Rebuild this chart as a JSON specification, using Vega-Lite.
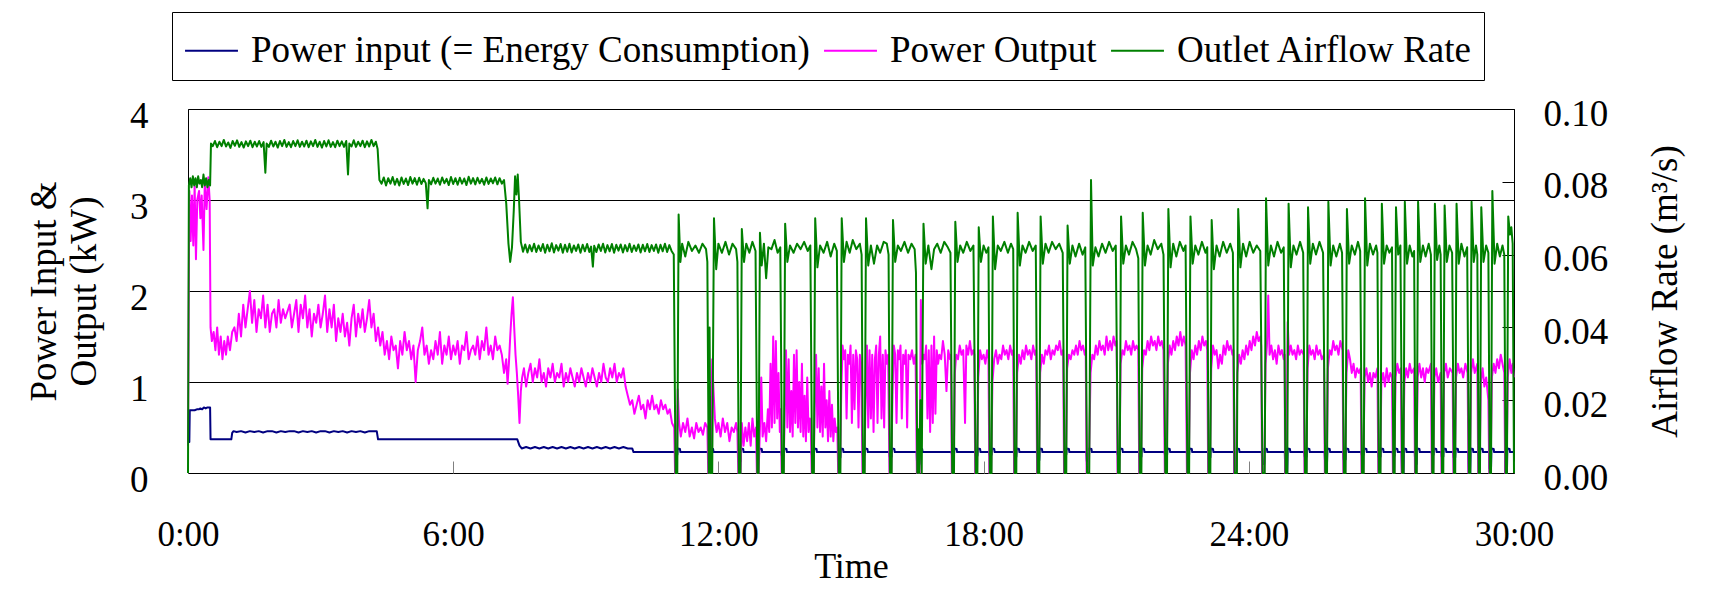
{
"$schema": "https://vega.github.io/schema/vega-lite/v6.json",
"width": 1326,
"height": 364,
"autosize": {"type": "none"},
"padding": {"left": 188, "top": 109, "right": 207, "bottom": 120},
"background": "white",
"config": {
  "font": "Liberation Serif",
  "view": {"stroke": "black", "strokeWidth": 1},
  "axis": {"labelFont": "Liberation Serif", "titleFont": "Liberation Serif", "labelColor": "black", "titleColor": "black", "titleFontWeight": "normal", "domain": false}
},
"datasets": {
"pin": [
{"t":0,"v":0.34},{"t":0.03,"v":0.34},{"t":0.04,"v":0.69},{"t":0.15,"v":0.69},{"t":0.2,"v":0.7},{"t":0.25,"v":0.7},{"t":0.28,"v":0.71},{"t":0.32,"v":0.7},{"t":0.36,"v":0.72},{"t":0.4,"v":0.71},{"t":0.44,"v":0.72},{"t":0.5,"v":0.72},{"t":0.51,"v":0.37},{"t":0.98,"v":0.37},{"t":1.0,"v":0.44},{"t":1.03,"v":0.46},{"t":1.1,"v":0.45},{"t":1.2,"v":0.46},{"t":1.3,"v":0.445},{"t":1.4,"v":0.46},{"t":1.5,"v":0.45},{"t":1.6,"v":0.46},{"t":1.7,"v":0.445},{"t":1.8,"v":0.46},{"t":1.9,"v":0.46},{"t":2.0,"v":0.445},{"t":2.1,"v":0.46},{"t":2.2,"v":0.45},{"t":2.3,"v":0.46},{"t":2.4,"v":0.46},{"t":2.5,"v":0.445},{"t":2.6,"v":0.46},{"t":2.7,"v":0.45},{"t":2.8,"v":0.46},{"t":2.9,"v":0.445},{"t":3.0,"v":0.46},{"t":3.1,"v":0.46},{"t":3.2,"v":0.445},{"t":3.3,"v":0.46},{"t":3.4,"v":0.45},{"t":3.5,"v":0.46},{"t":3.6,"v":0.445},{"t":3.7,"v":0.46},{"t":3.8,"v":0.45},{"t":3.9,"v":0.46},{"t":4.0,"v":0.445},{"t":4.1,"v":0.46},{"t":4.2,"v":0.46},{"t":4.27,"v":0.46},{"t":4.3,"v":0.37},{"t":7.45,"v":0.37},{"t":7.5,"v":0.3},{"t":7.55,"v":0.27},{"t":7.65,"v":0.285},{"t":7.75,"v":0.27},{"t":7.85,"v":0.285},{"t":7.95,"v":0.27},{"t":8.05,"v":0.285},{"t":8.15,"v":0.27},{"t":8.25,"v":0.285},{"t":8.35,"v":0.27},{"t":8.45,"v":0.285},{"t":8.55,"v":0.27},{"t":8.65,"v":0.285},{"t":8.75,"v":0.27},{"t":8.85,"v":0.285},{"t":8.95,"v":0.27},{"t":9.05,"v":0.285},{"t":9.15,"v":0.27},{"t":9.25,"v":0.285},{"t":9.35,"v":0.27},{"t":9.45,"v":0.285},{"t":9.55,"v":0.27},{"t":9.65,"v":0.285},{"t":9.75,"v":0.27},{"t":9.85,"v":0.285},{"t":9.95,"v":0.27},{"t":10.05,"v":0.27},{"t":10.08,"v":0.23},
{"t":11.015,"v":0.23},{"t":11.025,"v":0.2},{"t":11.07,"v":0.2},{"t":11.08,"v":0.27},{"t":11.13,"v":0.265},{"t":11.14,"v":0.23},
{"t":11.765,"v":0.23},{"t":11.775,"v":0.18},{"t":11.82,"v":0.18},{"t":11.83,"v":0.27},{"t":11.88,"v":0.265},{"t":11.89,"v":0.23},
{"t":12.445,"v":0.23},{"t":12.455,"v":0.13},{"t":12.5,"v":0.13},{"t":12.51,"v":0.27},{"t":12.56,"v":0.265},{"t":12.57,"v":0.23},
{"t":12.865,"v":0.23},{"t":12.875,"v":0.2},{"t":12.92,"v":0.2},{"t":12.93,"v":0.27},{"t":12.98,"v":0.265},{"t":12.99,"v":0.23},
{"t":13.425,"v":0.23},{"t":13.435,"v":0.19},{"t":13.48,"v":0.19},{"t":13.49,"v":0.27},{"t":13.54,"v":0.265},{"t":13.55,"v":0.23},
{"t":14.105,"v":0.23},{"t":14.115,"v":0.2},{"t":14.16,"v":0.2},{"t":14.17,"v":0.27},{"t":14.22,"v":0.265},{"t":14.23,"v":0.23},
{"t":14.705,"v":0.23},{"t":14.715,"v":0.17},{"t":14.76,"v":0.17},{"t":14.77,"v":0.27},{"t":14.82,"v":0.265},{"t":14.83,"v":0.23},
{"t":15.255,"v":0.23},{"t":15.265,"v":0.2},{"t":15.31,"v":0.2},{"t":15.32,"v":0.27},{"t":15.37,"v":0.265},{"t":15.38,"v":0.23},
{"t":15.865,"v":0.23},{"t":15.875,"v":0.18},{"t":15.92,"v":0.18},{"t":15.93,"v":0.27},{"t":15.98,"v":0.265},{"t":15.99,"v":0.23},
{"t":16.485,"v":0.23},{"t":16.495,"v":0.1},{"t":16.55,"v":0.1},{"t":16.56,"v":0.27},{"t":16.61,"v":0.265},{"t":16.62,"v":0.23},
{"t":17.275,"v":0.23},{"t":17.285,"v":0.2},{"t":17.33,"v":0.2},{"t":17.34,"v":0.27},{"t":17.39,"v":0.265},{"t":17.4,"v":0.23},
{"t":17.805,"v":0.23},{"t":17.815,"v":0.19},{"t":17.86,"v":0.19},{"t":17.87,"v":0.27},{"t":17.92,"v":0.265},{"t":17.93,"v":0.23},
{"t":18.125,"v":0.23},{"t":18.135,"v":0.2},{"t":18.18,"v":0.2},{"t":18.19,"v":0.27},{"t":18.24,"v":0.265},{"t":18.25,"v":0.23},
{"t":18.685,"v":0.23},{"t":18.695,"v":0.18},{"t":18.74,"v":0.18},{"t":18.75,"v":0.27},{"t":18.8,"v":0.265},{"t":18.81,"v":0.23},
{"t":19.205,"v":0.23},{"t":19.215,"v":0.14},{"t":19.26,"v":0.14},{"t":19.27,"v":0.27},{"t":19.32,"v":0.265},{"t":19.33,"v":0.23},
{"t":19.815,"v":0.23},{"t":19.825,"v":0.2},{"t":19.87,"v":0.2},{"t":19.88,"v":0.27},{"t":19.93,"v":0.265},{"t":19.94,"v":0.23},
{"t":20.325,"v":0.23},{"t":20.335,"v":0.13},{"t":20.38,"v":0.13},{"t":20.39,"v":0.27},{"t":20.44,"v":0.265},{"t":20.45,"v":0.23},
{"t":21.025,"v":0.23},{"t":21.035,"v":0.2},{"t":21.08,"v":0.2},{"t":21.09,"v":0.27},{"t":21.14,"v":0.265},{"t":21.15,"v":0.23},
{"t":21.515,"v":0.23},{"t":21.525,"v":0.18},{"t":21.57,"v":0.18},{"t":21.58,"v":0.27},{"t":21.63,"v":0.265},{"t":21.64,"v":0.23},
{"t":22.095,"v":0.23},{"t":22.105,"v":0.19},{"t":22.15,"v":0.19},{"t":22.16,"v":0.27},{"t":22.21,"v":0.265},{"t":22.22,"v":0.23},
{"t":22.595,"v":0.23},{"t":22.605,"v":0.2},{"t":22.65,"v":0.2},{"t":22.66,"v":0.27},{"t":22.71,"v":0.265},{"t":22.72,"v":0.23},
{"t":23.075,"v":0.23},{"t":23.085,"v":0.17},{"t":23.13,"v":0.17},{"t":23.14,"v":0.27},{"t":23.19,"v":0.265},{"t":23.2,"v":0.23},
{"t":23.665,"v":0.23},{"t":23.675,"v":0},{"t":23.72,"v":0},{"t":23.73,"v":0.27},{"t":23.78,"v":0.265},{"t":23.79,"v":0.23},
{"t":24.295,"v":0.23},{"t":24.305,"v":0.1},{"t":24.35,"v":0.1},{"t":24.36,"v":0.27},{"t":24.41,"v":0.265},{"t":24.42,"v":0.23},
{"t":24.815,"v":0.23},{"t":24.825,"v":0},{"t":24.87,"v":0},{"t":24.88,"v":0.27},{"t":24.93,"v":0.265},{"t":24.94,"v":0.23},
{"t":25.255,"v":0.23},{"t":25.265,"v":0.18},{"t":25.31,"v":0.18},{"t":25.32,"v":0.27},{"t":25.37,"v":0.265},{"t":25.38,"v":0.23},
{"t":25.715,"v":0.23},{"t":25.725,"v":0.12},{"t":25.77,"v":0.12},{"t":25.78,"v":0.27},{"t":25.83,"v":0.265},{"t":25.84,"v":0.23},
{"t":26.135,"v":0.23},{"t":26.145,"v":0.15},{"t":26.19,"v":0.15},{"t":26.2,"v":0.27},{"t":26.25,"v":0.265},{"t":26.26,"v":0.23},
{"t":26.545,"v":0.23},{"t":26.555,"v":0.2},{"t":26.6,"v":0.2},{"t":26.61,"v":0.27},{"t":26.66,"v":0.265},{"t":26.67,"v":0.23},
{"t":26.925,"v":0.23},{"t":26.935,"v":0.18},{"t":26.98,"v":0.18},{"t":26.99,"v":0.27},{"t":27.04,"v":0.265},{"t":27.05,"v":0.23},
{"t":27.255,"v":0.23},{"t":27.265,"v":0.19},{"t":27.3,"v":0.19},{"t":27.31,"v":0.27},{"t":27.36,"v":0.265},{"t":27.37,"v":0.23},
{"t":27.455,"v":0.23},{"t":27.465,"v":0},{"t":27.5,"v":0},{"t":27.51,"v":0.27},{"t":27.56,"v":0.265},{"t":27.57,"v":0.23},
{"t":27.755,"v":0.23},{"t":27.765,"v":0.1},{"t":27.8,"v":0.1},{"t":27.81,"v":0.27},{"t":27.86,"v":0.265},{"t":27.87,"v":0.23},
{"t":28.135,"v":0.23},{"t":28.145,"v":0.2},{"t":28.18,"v":0.2},{"t":28.19,"v":0.27},{"t":28.24,"v":0.265},{"t":28.25,"v":0.23},
{"t":28.355,"v":0.23},{"t":28.365,"v":0.18},{"t":28.4,"v":0.18},{"t":28.41,"v":0.27},{"t":28.46,"v":0.265},{"t":28.47,"v":0.23},
{"t":28.625,"v":0.23},{"t":28.635,"v":0.17},{"t":28.67,"v":0.17},{"t":28.68,"v":0.27},{"t":28.73,"v":0.265},{"t":28.74,"v":0.23},
{"t":28.965,"v":0.23},{"t":28.975,"v":0},{"t":29.01,"v":0},{"t":29.02,"v":0.27},{"t":29.07,"v":0.265},{"t":29.08,"v":0.23},
{"t":29.185,"v":0.23},{"t":29.195,"v":0.19},{"t":29.23,"v":0.19},{"t":29.24,"v":0.27},{"t":29.29,"v":0.265},{"t":29.3,"v":0.23},
{"t":29.435,"v":0.23},{"t":29.445,"v":0.05},{"t":29.48,"v":0.05},{"t":29.49,"v":0.27},{"t":29.54,"v":0.265},{"t":29.55,"v":0.23},
{"t":29.795,"v":0.23},{"t":29.805,"v":0},{"t":29.84,"v":0},{"t":29.85,"v":0.27},{"t":29.9,"v":0.265},{"t":29.91,"v":0.23},{"t":30,"v":0.23}
],
"pout": [
{"t":0,"v":0.3},{"t":0.03,"v":3.1},{"t":0.06,"v":2.55},{"t":0.09,"v":3.05},{"t":0.12,"v":2.5},{"t":0.15,"v":3.15},{"t":0.18,"v":2.35},{"t":0.21,"v":3.0},{"t":0.25,"v":3.1},{"t":0.28,"v":2.8},{"t":0.31,"v":3.05},{"t":0.35,"v":2.45},{"t":0.38,"v":3.2},{"t":0.42,"v":2.9},{"t":0.46,"v":3.25},{"t":0.49,"v":3.0},{"t":0.51,"v":1.6},{"t":0.54,"v":1.45},{"t":0.58,"v":1.55},{"t":0.62,"v":1.35},{"t":0.66,"v":1.6},{"t":0.7,"v":1.3},{"t":0.74,"v":1.5},{"t":0.78,"v":1.25},{"t":0.82,"v":1.45},{"t":0.86,"v":1.3},{"t":0.9,"v":1.5},{"t":0.95,"v":1.35},{"t":1.0,"v":1.55},{"t":1.05,"v":1.6},{"t":1.1,"v":1.45},{"t":1.15,"v":1.75},{"t":1.2,"v":1.5},{"t":1.25,"v":1.85},{"t":1.3,"v":1.6},{"t":1.35,"v":1.8},{"t":1.4,"v":2.0},{"t":1.45,"v":1.65},{"t":1.5,"v":1.9},{"t":1.55,"v":1.55},{"t":1.6,"v":1.8},{"t":1.65,"v":1.7},{"t":1.7,"v":1.95},{"t":1.75,"v":1.6},{"t":1.8,"v":1.85},{"t":1.85,"v":1.55},{"t":1.9,"v":1.75},{"t":1.95,"v":1.8},{"t":2.0,"v":1.6},{"t":2.05,"v":1.9},{"t":2.1,"v":1.65},{"t":2.15,"v":1.8},{"t":2.2,"v":1.7},{"t":2.3,"v":1.85},{"t":2.35,"v":1.6},{"t":2.4,"v":1.75},{"t":2.45,"v":1.9},{"t":2.5,"v":1.55},{"t":2.55,"v":1.85},{"t":2.6,"v":1.7},{"t":2.65,"v":1.95},{"t":2.7,"v":1.6},{"t":2.75,"v":1.8},{"t":2.8,"v":1.5},{"t":2.85,"v":1.75},{"t":2.9,"v":1.65},{"t":2.95,"v":1.85},{"t":3.0,"v":1.6},{"t":3.05,"v":1.75},{"t":3.1,"v":1.95},{"t":3.15,"v":1.55},{"t":3.2,"v":1.8},{"t":3.25,"v":1.6},{"t":3.3,"v":1.85},{"t":3.35,"v":1.45},{"t":3.4,"v":1.7},{"t":3.45,"v":1.55},{"t":3.5,"v":1.75},{"t":3.55,"v":1.5},{"t":3.6,"v":1.65},{"t":3.65,"v":1.4},{"t":3.7,"v":1.7},{"t":3.75,"v":1.85},{"t":3.8,"v":1.5},{"t":3.85,"v":1.75},{"t":3.9,"v":1.6},{"t":3.95,"v":1.8},{"t":4.0,"v":1.55},{"t":4.05,"v":1.7},{"t":4.1,"v":1.9},{"t":4.15,"v":1.6},{"t":4.2,"v":1.75},{"t":4.25,"v":1.45},{"t":4.3,"v":1.6},{"t":4.35,"v":1.4},{"t":4.4,"v":1.55},{"t":4.45,"v":1.3},{"t":4.5,"v":1.45},{"t":4.55,"v":1.25},{"t":4.6,"v":1.5},{"t":4.65,"v":1.35},{"t":4.7,"v":1.4},{"t":4.75,"v":1.15},{"t":4.8,"v":1.45},{"t":4.85,"v":1.3},{"t":4.9,"v":1.55},{"t":4.95,"v":1.35},{"t":5.0,"v":1.45},{"t":5.05,"v":1.25},{"t":5.1,"v":1.4},{"t":5.15,"v":1.0},{"t":5.2,"v":1.35},{"t":5.25,"v":1.45},{"t":5.3,"v":1.6},{"t":5.35,"v":1.3},{"t":5.4,"v":1.4},{"t":5.45,"v":1.2},{"t":5.5,"v":1.35},{"t":5.55,"v":1.25},{"t":5.6,"v":1.45},{"t":5.65,"v":1.3},{"t":5.7,"v":1.55},{"t":5.75,"v":1.2},{"t":5.8,"v":1.4},{"t":5.85,"v":1.3},{"t":5.9,"v":1.5},{"t":5.95,"v":1.25},{"t":6.0,"v":1.4},{"t":6.05,"v":1.3},{"t":6.1,"v":1.45},{"t":6.15,"v":1.2},{"t":6.2,"v":1.4},{"t":6.25,"v":1.35},{"t":6.3,"v":1.55},{"t":6.35,"v":1.25},{"t":6.4,"v":1.35},{"t":6.45,"v":1.4},{"t":6.5,"v":1.3},{"t":6.55,"v":1.5},{"t":6.6,"v":1.25},{"t":6.65,"v":1.45},{"t":6.7,"v":1.35},{"t":6.75,"v":1.6},{"t":6.8,"v":1.3},{"t":6.85,"v":1.4},{"t":6.9,"v":1.25},{"t":6.95,"v":1.5},{"t":7.0,"v":1.35},{"t":7.05,"v":1.4},{"t":7.1,"v":1.3},{"t":7.15,"v":1.1},{"t":7.2,"v":1.25},{"t":7.23,"v":0.98},{"t":7.26,"v":1.2},{"t":7.29,"v":1.5},{"t":7.32,"v":1.75},{"t":7.35,"v":1.93},{"t":7.38,"v":1.6},{"t":7.41,"v":1.3},{"t":7.44,"v":1.1},{"t":7.47,"v":0.85},{"t":7.5,"v":0.55},{"t":7.53,"v":0.9},{"t":7.56,"v":1.05},{"t":7.6,"v":1.15},{"t":7.65,"v":0.95},{"t":7.7,"v":1.1},{"t":7.75,"v":1.2},{"t":7.8,"v":1.0},{"t":7.85,"v":1.15},{"t":7.9,"v":1.05},{"t":7.95,"v":1.25},{"t":8.0,"v":1.0},{"t":8.05,"v":1.1},{"t":8.1,"v":0.95},{"t":8.15,"v":1.15},{"t":8.2,"v":1.05},{"t":8.25,"v":1.2},{"t":8.3,"v":1.0},{"t":8.35,"v":1.1},{"t":8.4,"v":1.05},{"t":8.45,"v":1.2},{"t":8.5,"v":0.95},{"t":8.55,"v":1.1},{"t":8.6,"v":1.0},{"t":8.65,"v":1.15},{"t":8.7,"v":1.05},{"t":8.75,"v":0.95},{"t":8.8,"v":1.1},{"t":8.85,"v":1.0},{"t":8.9,"v":1.15},{"t":8.95,"v":1.05},{"t":9.0,"v":0.95},{"t":9.05,"v":1.1},{"t":9.1,"v":1.0},{"t":9.15,"v":1.15},{"t":9.2,"v":1.05},{"t":9.25,"v":0.95},{"t":9.3,"v":1.1},{"t":9.35,"v":1.0},{"t":9.4,"v":1.2},{"t":9.45,"v":1.05},{"t":9.5,"v":1.0},{"t":9.55,"v":1.15},{"t":9.6,"v":1.05},{"t":9.65,"v":1.2},{"t":9.7,"v":1.0},{"t":9.75,"v":1.1},{"t":9.8,"v":1.05},{"t":9.85,"v":1.15},{"t":9.9,"v":0.95},{"t":9.95,"v":0.85},{"t":10.0,"v":0.75},{"t":10.05,"v":0.8},{"t":10.1,"v":0.65},{"t":10.15,"v":0.75},{"t":10.2,"v":0.85},{"t":10.25,"v":0.7},{"t":10.3,"v":0.75},{"t":10.35,"v":0.6},{"t":10.4,"v":0.8},{"t":10.45,"v":0.7},{"t":10.5,"v":0.85},{"t":10.55,"v":0.7},{"t":10.6,"v":0.75},{"t":10.65,"v":0.65},{"t":10.7,"v":0.8},{"t":10.75,"v":0.7},{"t":10.8,"v":0.75},{"t":10.85,"v":0.65},{"t":10.9,"v":0.7},{"t":10.95,"v":0.55},
{"t":11.0,"v":0.5},{"t":11.02,"v":0},{"t":11.06,"v":0},{"t":11.08,"v":0.92},{"t":11.11,"v":0.55},{"t":11.15,"v":0.4},{"t":11.2,"v":0.55},{"t":11.25,"v":0.45},{"t":11.3,"v":0.6},{"t":11.35,"v":0.4},{"t":11.4,"v":0.5},{"t":11.45,"v":0.38},{"t":11.5,"v":0.55},{"t":11.55,"v":0.45},{"t":11.6,"v":0.5},{"t":11.65,"v":0.42},{"t":11.7,"v":0.55},{"t":11.75,"v":0.5},
{"t":11.77,"v":0},{"t":11.82,"v":0},{"t":11.86,"v":1.25},{"t":11.89,"v":0.9},{"t":11.92,"v":0.6},{"t":11.96,"v":0.45},{"t":12.0,"v":0.55},{"t":12.05,"v":0.4},{"t":12.1,"v":0.6},{"t":12.15,"v":0.45},{"t":12.2,"v":0.55},{"t":12.25,"v":0.35},{"t":12.3,"v":0.5},{"t":12.35,"v":0.45},{"t":12.4,"v":0.55},{"t":12.43,"v":0.45},
{"t":12.45,"v":0},{"t":12.5,"v":0},{"t":12.53,"v":0.55},{"t":12.57,"v":0.3},{"t":12.61,"v":0.5},{"t":12.65,"v":0.35},{"t":12.69,"v":0.55},{"t":12.73,"v":0.3},{"t":12.77,"v":0.6},{"t":12.81,"v":0.4},{"t":12.85,"v":0.5},
{"t":12.87,"v":0},{"t":12.91,"v":0},{"t":12.94,"v":0.5},{"t":12.97,"v":1.05},{"t":13.0,"v":0.4},{"t":13.04,"v":0.55},{"t":13.08,"v":0.35},{"t":13.12,"v":0.7},{"t":13.15,"v":0.45},{"t":13.18,"v":1.2},{"t":13.21,"v":0.5},{"t":13.24,"v":1.5},{"t":13.27,"v":0.55},{"t":13.3,"v":1.45},{"t":13.33,"v":0.6},{"t":13.36,"v":1.1},{"t":13.39,"v":0.45},{"t":13.41,"v":0.7},
{"t":13.43,"v":0},{"t":13.47,"v":0},{"t":13.5,"v":0.6},{"t":13.53,"v":1.35},{"t":13.56,"v":0.5},{"t":13.59,"v":1.25},{"t":13.62,"v":0.45},{"t":13.65,"v":0.9},{"t":13.68,"v":0.4},{"t":13.71,"v":1.3},{"t":13.74,"v":0.55},{"t":13.77,"v":1.35},{"t":13.8,"v":0.5},{"t":13.83,"v":1.0},{"t":13.86,"v":0.45},{"t":13.89,"v":1.2},{"t":13.92,"v":0.4},{"t":13.95,"v":0.85},{"t":13.98,"v":0.35},{"t":14.01,"v":1.05},{"t":14.04,"v":0.45},{"t":14.07,"v":0.6},{"t":14.09,"v":0.5},
{"t":14.11,"v":0},{"t":14.15,"v":0},{"t":14.18,"v":0.7},{"t":14.21,"v":1.3},{"t":14.24,"v":0.5},{"t":14.27,"v":1.15},{"t":14.3,"v":0.45},{"t":14.33,"v":0.95},{"t":14.36,"v":0.4},{"t":14.39,"v":1.2},{"t":14.42,"v":0.5},{"t":14.45,"v":0.8},{"t":14.48,"v":0.35},{"t":14.51,"v":0.9},{"t":14.54,"v":0.4},{"t":14.57,"v":0.75},{"t":14.6,"v":0.35},{"t":14.63,"v":0.6},{"t":14.66,"v":0.45},{"t":14.69,"v":0.5},
{"t":14.71,"v":0},{"t":14.75,"v":0},{"t":14.78,"v":0.9},{"t":14.81,"v":1.4},{"t":14.84,"v":1.25},{"t":14.87,"v":1.35},{"t":14.9,"v":0.6},{"t":14.93,"v":1.3},{"t":14.96,"v":1.2},{"t":14.99,"v":1.4},{"t":15.02,"v":0.55},{"t":15.05,"v":1.3},{"t":15.08,"v":0.7},{"t":15.11,"v":1.35},{"t":15.14,"v":1.25},{"t":15.17,"v":0.5},{"t":15.2,"v":1.3},{"t":15.23,"v":1.2},
{"t":15.26,"v":0},{"t":15.3,"v":0},{"t":15.33,"v":0.8},{"t":15.36,"v":1.4},{"t":15.39,"v":0.5},{"t":15.42,"v":1.35},{"t":15.45,"v":0.6},{"t":15.48,"v":1.3},{"t":15.51,"v":0.45},{"t":15.54,"v":1.25},{"t":15.57,"v":1.4},{"t":15.6,"v":0.55},{"t":15.63,"v":1.3},{"t":15.66,"v":1.5},{"t":15.69,"v":0.6},{"t":15.72,"v":1.3},{"t":15.75,"v":0.5},{"t":15.78,"v":1.35},{"t":15.81,"v":1.2},{"t":15.84,"v":1.3},
{"t":15.87,"v":0},{"t":15.91,"v":0},{"t":15.94,"v":0.9},{"t":15.97,"v":1.4},{"t":16.0,"v":1.3},{"t":16.03,"v":0.55},{"t":16.06,"v":1.35},{"t":16.09,"v":1.25},{"t":16.12,"v":1.4},{"t":16.15,"v":0.6},{"t":16.18,"v":1.3},{"t":16.21,"v":1.2},{"t":16.24,"v":1.35},{"t":16.27,"v":0.5},{"t":16.3,"v":1.3},{"t":16.34,"v":1.25},{"t":16.38,"v":1.35},{"t":16.42,"v":1.2},{"t":16.46,"v":1.3},
{"t":16.49,"v":0},{"t":16.55,"v":0},{"t":16.58,"v":1.9},{"t":16.61,"v":1.2},{"t":16.64,"v":1.3},{"t":16.67,"v":1.25},{"t":16.7,"v":1.4},{"t":16.73,"v":0.6},{"t":16.76,"v":1.35},{"t":16.79,"v":0.45},{"t":16.82,"v":1.4},{"t":16.85,"v":0.55},{"t":16.88,"v":1.5},{"t":16.91,"v":0.65},{"t":16.94,"v":1.35},{"t":16.97,"v":1.2},{"t":17.0,"v":1.3},{"t":17.04,"v":1.25},{"t":17.08,"v":1.45},{"t":17.12,"v":1.3},{"t":17.16,"v":0.9},{"t":17.2,"v":1.35},{"t":17.24,"v":1.25},{"t":17.26,"v":1.3},
{"t":17.28,"v":0},{"t":17.32,"v":0},{"t":17.35,"v":1.1},{"t":17.38,"v":1.3},{"t":17.42,"v":1.25},{"t":17.46,"v":1.4},{"t":17.5,"v":1.3},{"t":17.54,"v":1.35},{"t":17.58,"v":0.55},{"t":17.61,"v":1.4},{"t":17.65,"v":1.3},{"t":17.69,"v":1.45},{"t":17.73,"v":1.3},{"t":17.77,"v":1.35},{"t":17.79,"v":1.3},
{"t":17.81,"v":0},{"t":17.85,"v":0},{"t":17.88,"v":1.05},{"t":17.92,"v":1.35},{"t":17.96,"v":1.25},{"t":18.0,"v":1.3},{"t":18.04,"v":1.2},{"t":18.08,"v":1.35},{"t":18.11,"v":1.25},
{"t":18.13,"v":0},{"t":18.17,"v":0},{"t":18.2,"v":1.0},{"t":18.24,"v":1.25},{"t":18.28,"v":1.35},{"t":18.32,"v":1.2},{"t":18.36,"v":1.3},{"t":18.4,"v":1.25},{"t":18.44,"v":1.4},{"t":18.48,"v":1.3},{"t":18.52,"v":1.35},{"t":18.56,"v":1.25},{"t":18.6,"v":1.4},{"t":18.64,"v":1.3},{"t":18.67,"v":1.35},
{"t":18.69,"v":0},{"t":18.73,"v":0},{"t":18.76,"v":1.1},{"t":18.8,"v":1.3},{"t":18.84,"v":1.2},{"t":18.88,"v":1.35},{"t":18.92,"v":1.25},{"t":18.96,"v":1.4},{"t":19.0,"v":1.3},{"t":19.04,"v":1.35},{"t":19.08,"v":1.25},{"t":19.12,"v":1.4},{"t":19.16,"v":1.3},{"t":19.19,"v":1.35},
{"t":19.21,"v":0},{"t":19.25,"v":0},{"t":19.28,"v":1.1},{"t":19.32,"v":1.3},{"t":19.36,"v":1.2},{"t":19.4,"v":1.35},{"t":19.44,"v":1.3},{"t":19.48,"v":1.4},{"t":19.52,"v":1.25},{"t":19.56,"v":1.35},{"t":19.6,"v":1.3},{"t":19.64,"v":1.4},{"t":19.68,"v":1.35},{"t":19.72,"v":1.45},{"t":19.76,"v":1.3},{"t":19.8,"v":1.35},
{"t":19.82,"v":0},{"t":19.86,"v":0},{"t":19.89,"v":1.15},{"t":19.93,"v":1.3},{"t":19.97,"v":1.25},{"t":20.01,"v":1.35},{"t":20.05,"v":1.3},{"t":20.09,"v":1.4},{"t":20.13,"v":1.3},{"t":20.17,"v":1.45},{"t":20.21,"v":1.35},{"t":20.25,"v":1.4},{"t":20.29,"v":1.3},{"t":20.31,"v":1.35},
{"t":20.33,"v":0},{"t":20.38,"v":0},{"t":20.42,"v":1.1},{"t":20.46,"v":1.3},{"t":20.5,"v":1.25},{"t":20.54,"v":1.4},{"t":20.58,"v":1.3},{"t":20.62,"v":1.45},{"t":20.66,"v":1.35},{"t":20.7,"v":1.4},{"t":20.74,"v":1.3},{"t":20.78,"v":1.5},{"t":20.82,"v":1.35},{"t":20.86,"v":1.45},{"t":20.9,"v":1.35},{"t":20.94,"v":1.5},{"t":20.98,"v":1.4},{"t":21.01,"v":1.45},
{"t":21.03,"v":0},{"t":21.07,"v":0},{"t":21.1,"v":1.2},{"t":21.14,"v":1.35},{"t":21.18,"v":1.3},{"t":21.22,"v":1.45},{"t":21.26,"v":1.35},{"t":21.3,"v":1.4},{"t":21.34,"v":1.3},{"t":21.38,"v":1.45},{"t":21.42,"v":1.35},{"t":21.46,"v":1.4},{"t":21.5,"v":1.35},
{"t":21.52,"v":0},{"t":21.56,"v":0},{"t":21.59,"v":1.15},{"t":21.63,"v":1.35},{"t":21.67,"v":1.3},{"t":21.71,"v":1.45},{"t":21.75,"v":1.35},{"t":21.79,"v":1.5},{"t":21.83,"v":1.4},{"t":21.87,"v":1.45},{"t":21.91,"v":1.35},{"t":21.95,"v":1.5},{"t":21.99,"v":1.4},{"t":22.03,"v":1.45},{"t":22.07,"v":1.35},
{"t":22.1,"v":0},{"t":22.14,"v":0},{"t":22.17,"v":1.2},{"t":22.21,"v":1.4},{"t":22.25,"v":1.3},{"t":22.29,"v":1.45},{"t":22.33,"v":1.35},{"t":22.37,"v":1.5},{"t":22.41,"v":1.4},{"t":22.45,"v":1.55},{"t":22.49,"v":1.4},{"t":22.53,"v":1.5},{"t":22.57,"v":1.4},
{"t":22.6,"v":0},{"t":22.64,"v":0},{"t":22.67,"v":1.1},{"t":22.71,"v":1.35},{"t":22.75,"v":1.25},{"t":22.79,"v":1.4},{"t":22.83,"v":1.3},{"t":22.87,"v":1.45},{"t":22.91,"v":1.35},{"t":22.95,"v":1.5},{"t":22.99,"v":1.4},{"t":23.03,"v":1.45},{"t":23.06,"v":1.35},
{"t":23.08,"v":0},{"t":23.12,"v":0},{"t":23.15,"v":1.15},{"t":23.19,"v":1.4},{"t":23.23,"v":1.3},{"t":23.27,"v":1.35},{"t":23.31,"v":1.15},{"t":23.35,"v":1.3},{"t":23.39,"v":1.2},{"t":23.43,"v":1.4},{"t":23.47,"v":1.3},{"t":23.51,"v":1.45},{"t":23.55,"v":1.35},{"t":23.59,"v":1.4},{"t":23.63,"v":1.3},{"t":23.65,"v":1.35},
{"t":23.67,"v":0},{"t":23.71,"v":0},{"t":23.74,"v":1.1},{"t":23.78,"v":1.3},{"t":23.82,"v":1.2},{"t":23.86,"v":1.35},{"t":23.9,"v":1.25},{"t":23.94,"v":1.4},{"t":23.98,"v":1.3},{"t":24.02,"v":1.45},{"t":24.06,"v":1.35},{"t":24.1,"v":1.5},{"t":24.14,"v":1.4},{"t":24.18,"v":1.55},{"t":24.22,"v":1.45},{"t":24.26,"v":1.5},{"t":24.28,"v":1.4},
{"t":24.3,"v":0},{"t":24.35,"v":0},{"t":24.38,"v":1.2},{"t":24.41,"v":1.4},{"t":24.44,"v":1.95},{"t":24.47,"v":1.3},{"t":24.51,"v":1.4},{"t":24.55,"v":1.25},{"t":24.59,"v":1.35},{"t":24.63,"v":1.2},{"t":24.67,"v":1.4},{"t":24.71,"v":1.3},{"t":24.75,"v":1.35},{"t":24.79,"v":1.25},{"t":24.81,"v":1.3},
{"t":24.82,"v":0},{"t":24.85,"v":0},{"t":24.88,"v":1.66},{"t":24.91,"v":1.3},{"t":24.95,"v":1.4},{"t":24.99,"v":1.3},{"t":25.03,"v":1.35},{"t":25.07,"v":1.25},{"t":25.11,"v":1.4},{"t":25.15,"v":1.3},{"t":25.19,"v":1.35},{"t":25.24,"v":1.3},
{"t":25.26,"v":0},{"t":25.3,"v":0},{"t":25.33,"v":1.15},{"t":25.37,"v":1.4},{"t":25.41,"v":1.3},{"t":25.45,"v":1.35},{"t":25.49,"v":1.25},{"t":25.53,"v":1.4},{"t":25.57,"v":1.3},{"t":25.61,"v":1.35},{"t":25.65,"v":1.25},{"t":25.7,"v":1.3},
{"t":25.72,"v":0},{"t":25.76,"v":0},{"t":25.79,"v":1.15},{"t":25.83,"v":1.35},{"t":25.87,"v":1.3},{"t":25.91,"v":1.45},{"t":25.95,"v":1.35},{"t":25.99,"v":1.4},{"t":26.03,"v":1.3},{"t":26.07,"v":1.45},{"t":26.12,"v":1.35},
{"t":26.14,"v":0},{"t":26.18,"v":0},{"t":26.21,"v":1.1},{"t":26.25,"v":1.35},{"t":26.29,"v":1.25},{"t":26.33,"v":1.1},{"t":26.37,"v":1.2},{"t":26.41,"v":1.05},{"t":26.45,"v":1.15},{"t":26.49,"v":1.1},{"t":26.53,"v":1.15},
{"t":26.55,"v":0},{"t":26.59,"v":0},{"t":26.62,"v":1.05},{"t":26.66,"v":1.15},{"t":26.7,"v":1.0},{"t":26.74,"v":1.1},{"t":26.78,"v":0.95},{"t":26.82,"v":1.1},{"t":26.86,"v":1.05},{"t":26.91,"v":1.15},
{"t":26.93,"v":0},{"t":26.97,"v":0},{"t":27.0,"v":1.0},{"t":27.04,"v":1.1},{"t":27.08,"v":0.95},{"t":27.12,"v":1.15},{"t":27.16,"v":1.0},{"t":27.2,"v":1.1},{"t":27.24,"v":1.05},
{"t":27.26,"v":0},{"t":27.29,"v":0},{"t":27.32,"v":1.05},{"t":27.36,"v":1.2},{"t":27.4,"v":1.1},{"t":27.44,"v":1.15},
{"t":27.46,"v":0},{"t":27.49,"v":0},{"t":27.52,"v":1.0},{"t":27.56,"v":1.15},{"t":27.6,"v":1.05},{"t":27.64,"v":1.2},{"t":27.68,"v":1.1},{"t":27.74,"v":1.15},
{"t":27.76,"v":0},{"t":27.79,"v":0},{"t":27.82,"v":1.05},{"t":27.86,"v":1.2},{"t":27.9,"v":1.05},{"t":27.94,"v":1.15},{"t":27.98,"v":1.0},{"t":28.02,"v":1.15},{"t":28.06,"v":1.1},{"t":28.12,"v":1.2},
{"t":28.14,"v":0},{"t":28.17,"v":0},{"t":28.2,"v":1.05},{"t":28.24,"v":1.15},{"t":28.28,"v":1.0},{"t":28.34,"v":1.1},
{"t":28.36,"v":0},{"t":28.39,"v":0},{"t":28.42,"v":1.1},{"t":28.46,"v":1.2},{"t":28.5,"v":1.05},{"t":28.55,"v":1.15},{"t":28.61,"v":1.1},
{"t":28.63,"v":0},{"t":28.66,"v":0},{"t":28.69,"v":1.05},{"t":28.73,"v":1.2},{"t":28.77,"v":1.1},{"t":28.81,"v":1.15},{"t":28.85,"v":1.05},{"t":28.9,"v":1.2},{"t":28.95,"v":1.1},
{"t":28.97,"v":0},{"t":29.0,"v":0},{"t":29.03,"v":1.1},{"t":29.07,"v":1.25},{"t":29.11,"v":1.1},{"t":29.17,"v":1.2},
{"t":29.19,"v":0},{"t":29.22,"v":0},{"t":29.25,"v":1.0},{"t":29.29,"v":1.15},{"t":29.33,"v":0.95},{"t":29.37,"v":1.05},{"t":29.42,"v":0.8},
{"t":29.44,"v":0},{"t":29.47,"v":0},{"t":29.5,"v":1.05},{"t":29.54,"v":1.2},{"t":29.58,"v":1.1},{"t":29.62,"v":1.25},{"t":29.66,"v":1.15},{"t":29.7,"v":1.3},{"t":29.74,"v":1.2},{"t":29.78,"v":1.1},
{"t":29.8,"v":0},{"t":29.83,"v":0},{"t":29.86,"v":1.05},{"t":29.9,"v":1.25},{"t":29.94,"v":1.1},{"t":29.97,"v":1.2},{"t":30.0,"v":1.05}
],
"air": [
{"t":0,"v":0},{"t":0.02,"v":0.079},{"t":0.05,"v":0.081},{"t":0.08,"v":0.0785},{"t":0.11,"v":0.0815},{"t":0.14,"v":0.079},{"t":0.17,"v":0.081},{"t":0.2,"v":0.0785},{"t":0.23,"v":0.0815},{"t":0.26,"v":0.0795},{"t":0.29,"v":0.0805},{"t":0.32,"v":0.0785},{"t":0.35,"v":0.082},{"t":0.38,"v":0.079},{"t":0.41,"v":0.081},{"t":0.44,"v":0.0785},{"t":0.47,"v":0.0805},{"t":0.5,"v":0.079},{"t":0.52,"v":0.0905},
{"t":0.56,"v":0.0898},{"t":0.61,"v":0.0912},{"t":0.66,"v":0.0895},{"t":0.71,"v":0.091},{"t":0.76,"v":0.0898},{"t":0.81,"v":0.0915},{"t":0.86,"v":0.0897},{"t":0.91,"v":0.0908},{"t":0.96,"v":0.0893},{"t":1.01,"v":0.0912},{"t":1.06,"v":0.0899},{"t":1.11,"v":0.0914},{"t":1.16,"v":0.0896},{"t":1.21,"v":0.0909},{"t":1.26,"v":0.0894},{"t":1.31,"v":0.0911},{"t":1.36,"v":0.0898},{"t":1.41,"v":0.0913},{"t":1.46,"v":0.0895},{"t":1.51,"v":0.091},{"t":1.56,"v":0.0897},{"t":1.61,"v":0.0912},{"t":1.66,"v":0.0896},{"t":1.71,"v":0.0909},{"t":1.75,"v":0.0825},{"t":1.78,"v":0.0905},{"t":1.83,"v":0.0896},{"t":1.88,"v":0.0913},{"t":1.93,"v":0.0897},{"t":1.98,"v":0.091},{"t":2.03,"v":0.0894},{"t":2.08,"v":0.0912},{"t":2.13,"v":0.0898},{"t":2.18,"v":0.0915},{"t":2.23,"v":0.0896},{"t":2.28,"v":0.0909},{"t":2.33,"v":0.0895},{"t":2.38,"v":0.0912},{"t":2.43,"v":0.0898},{"t":2.48,"v":0.0914},{"t":2.53,"v":0.0896},{"t":2.58,"v":0.091},{"t":2.63,"v":0.0897},{"t":2.68,"v":0.0913},{"t":2.73,"v":0.0895},{"t":2.78,"v":0.0911},{"t":2.83,"v":0.0898},{"t":2.88,"v":0.0915},{"t":2.93,"v":0.0896},{"t":2.98,"v":0.091},{"t":3.03,"v":0.0894},{"t":3.08,"v":0.0912},{"t":3.13,"v":0.0897},{"t":3.18,"v":0.0914},{"t":3.23,"v":0.0896},{"t":3.28,"v":0.0909},{"t":3.33,"v":0.0895},{"t":3.38,"v":0.0913},{"t":3.43,"v":0.0898},{"t":3.48,"v":0.0911},{"t":3.53,"v":0.0896},{"t":3.58,"v":0.0912},{"t":3.62,"v":0.082},{"t":3.65,"v":0.0905},{"t":3.7,"v":0.0897},{"t":3.75,"v":0.0914},{"t":3.8,"v":0.0896},{"t":3.85,"v":0.091},{"t":3.9,"v":0.0898},{"t":3.95,"v":0.0913},{"t":4.0,"v":0.0895},{"t":4.05,"v":0.0911},{"t":4.1,"v":0.0897},{"t":4.15,"v":0.0915},{"t":4.2,"v":0.0898},{"t":4.25,"v":0.091},{"t":4.29,"v":0.089},{"t":4.33,"v":0.0805},
{"t":4.38,"v":0.0795},{"t":4.43,"v":0.0812},{"t":4.48,"v":0.079},{"t":4.53,"v":0.081},{"t":4.58,"v":0.0795},{"t":4.63,"v":0.0813},{"t":4.68,"v":0.0792},{"t":4.73,"v":0.0808},{"t":4.78,"v":0.079},{"t":4.83,"v":0.0812},{"t":4.88,"v":0.0794},{"t":4.93,"v":0.0809},{"t":4.98,"v":0.0791},{"t":5.03,"v":0.0813},{"t":5.08,"v":0.0795},{"t":5.13,"v":0.081},{"t":5.18,"v":0.0792},{"t":5.23,"v":0.0811},{"t":5.28,"v":0.0794},{"t":5.33,"v":0.0808},{"t":5.38,"v":0.0796},{"t":5.42,"v":0.0727},{"t":5.45,"v":0.0805},{"t":5.5,"v":0.0793},{"t":5.55,"v":0.0811},{"t":5.6,"v":0.0795},{"t":5.65,"v":0.0809},{"t":5.7,"v":0.0792},{"t":5.75,"v":0.0812},{"t":5.8,"v":0.0796},{"t":5.85,"v":0.0808},{"t":5.9,"v":0.0791},{"t":5.95,"v":0.0813},{"t":6.0,"v":0.0794},{"t":6.05,"v":0.081},{"t":6.1,"v":0.0792},{"t":6.15,"v":0.0811},{"t":6.2,"v":0.0795},{"t":6.25,"v":0.0809},{"t":6.3,"v":0.0791},{"t":6.35,"v":0.0814},{"t":6.4,"v":0.0795},{"t":6.45,"v":0.081},{"t":6.5,"v":0.0793},{"t":6.55,"v":0.0811},{"t":6.6,"v":0.0796},{"t":6.65,"v":0.0808},{"t":6.7,"v":0.0792},{"t":6.75,"v":0.0812},{"t":6.8,"v":0.0794},{"t":6.85,"v":0.0809},{"t":6.9,"v":0.0796},{"t":6.95,"v":0.0812},{"t":7.0,"v":0.0793},{"t":7.05,"v":0.081},{"t":7.1,"v":0.0795},{"t":7.15,"v":0.0805},{"t":7.2,"v":0.074},{"t":7.25,"v":0.063},{"t":7.29,"v":0.058},{"t":7.33,"v":0.062},{"t":7.37,"v":0.072},{"t":7.4,"v":0.0815},{"t":7.43,"v":0.0765},{"t":7.46,"v":0.082},{"t":7.49,"v":0.075},{"t":7.53,"v":0.0635},{"t":7.58,"v":0.0608},
{"t":7.63,"v":0.0628},{"t":7.68,"v":0.0606},{"t":7.73,"v":0.0626},{"t":7.78,"v":0.0609},{"t":7.83,"v":0.063},{"t":7.88,"v":0.0607},{"t":7.93,"v":0.0625},{"t":7.98,"v":0.061},{"t":8.03,"v":0.0629},{"t":8.08,"v":0.0605},{"t":8.13,"v":0.0627},{"t":8.18,"v":0.0609},{"t":8.23,"v":0.0631},{"t":8.28,"v":0.0606},{"t":8.33,"v":0.0626},{"t":8.38,"v":0.0611},{"t":8.43,"v":0.0629},{"t":8.48,"v":0.0605},{"t":8.53,"v":0.0627},{"t":8.58,"v":0.0608},{"t":8.63,"v":0.063},{"t":8.68,"v":0.0606},{"t":8.73,"v":0.0625},{"t":8.78,"v":0.061},{"t":8.83,"v":0.0628},{"t":8.88,"v":0.0605},{"t":8.93,"v":0.0627},{"t":8.98,"v":0.0609},{"t":9.03,"v":0.0629},{"t":9.08,"v":0.0607},{"t":9.12,"v":0.0622},{"t":9.16,"v":0.0567},{"t":9.19,"v":0.0624},{"t":9.24,"v":0.0607},{"t":9.29,"v":0.0628},{"t":9.34,"v":0.061},{"t":9.39,"v":0.063},{"t":9.44,"v":0.0606},{"t":9.49,"v":0.0626},{"t":9.54,"v":0.0609},{"t":9.59,"v":0.0629},{"t":9.64,"v":0.0605},{"t":9.69,"v":0.0627},{"t":9.74,"v":0.0611},{"t":9.79,"v":0.0628},{"t":9.84,"v":0.0606},{"t":9.89,"v":0.0626},{"t":9.94,"v":0.0609},{"t":9.99,"v":0.063},{"t":10.04,"v":0.0607},{"t":10.09,"v":0.0625},{"t":10.14,"v":0.061},{"t":10.19,"v":0.0628},{"t":10.24,"v":0.0606},{"t":10.29,"v":0.0627},{"t":10.34,"v":0.0609},{"t":10.39,"v":0.0629},{"t":10.44,"v":0.0607},{"t":10.49,"v":0.0626},{"t":10.54,"v":0.061},{"t":10.59,"v":0.0628},{"t":10.64,"v":0.0605},{"t":10.69,"v":0.0627},{"t":10.74,"v":0.0609},{"t":10.79,"v":0.063},{"t":10.84,"v":0.0607},{"t":10.89,"v":0.0626},{"t":10.94,"v":0.061},{"t":10.99,"v":0.06},
{"t":11.03,"v":0},{"t":11.07,"v":0},{"t":11.1,"v":0.071},{"t":11.14,"v":0.058},{"t":11.18,"v":0.063},{"t":11.25,"v":0.0595},{"t":11.32,"v":0.0635},{"t":11.4,"v":0.061},{"t":11.48,"v":0.0625},{"t":11.56,"v":0.0605},{"t":11.64,"v":0.063},{"t":11.72,"v":0.0615},{"t":11.75,"v":0.058},
{"t":11.78,"v":0},{"t":11.8,"v":0.04},{"t":11.82,"v":0},{"t":11.86,"v":0},{"t":11.9,"v":0.07},{"t":11.95,"v":0.056},{"t":12.0,"v":0.063},{"t":12.08,"v":0.0605},{"t":12.16,"v":0.0635},{"t":12.24,"v":0.06},{"t":12.32,"v":0.063},{"t":12.4,"v":0.0615},{"t":12.43,"v":0.058},
{"t":12.46,"v":0},{"t":12.5,"v":0},{"t":12.53,"v":0.067},{"t":12.58,"v":0.058},{"t":12.63,"v":0.063},{"t":12.7,"v":0.0605},{"t":12.77,"v":0.0635},{"t":12.84,"v":0.061},
{"t":12.88,"v":0},{"t":12.91,"v":0},{"t":12.94,"v":0.066},{"t":12.98,"v":0.057},{"t":13.03,"v":0.063},{"t":13.08,"v":0.0535},{"t":13.13,"v":0.062},{"t":13.2,"v":0.0615},{"t":13.27,"v":0.064},{"t":13.34,"v":0.0605},{"t":13.4,"v":0.062},
{"t":13.44,"v":0},{"t":13.48,"v":0},{"t":13.51,"v":0.0685},{"t":13.56,"v":0.058},{"t":13.62,"v":0.0625},{"t":13.7,"v":0.0605},{"t":13.78,"v":0.063},{"t":13.86,"v":0.0615},{"t":13.94,"v":0.0635},{"t":14.02,"v":0.061},{"t":14.08,"v":0.0625},
{"t":14.12,"v":0},{"t":14.16,"v":0},{"t":14.19,"v":0.07},{"t":14.24,"v":0.0565},{"t":14.3,"v":0.0625},{"t":14.38,"v":0.0605},{"t":14.46,"v":0.0635},{"t":14.54,"v":0.0595},{"t":14.62,"v":0.063},{"t":14.68,"v":0.061},
{"t":14.72,"v":0},{"t":14.76,"v":0},{"t":14.79,"v":0.07},{"t":14.84,"v":0.058},{"t":14.9,"v":0.0635},{"t":14.97,"v":0.0605},{"t":15.04,"v":0.064},{"t":15.12,"v":0.0615},{"t":15.2,"v":0.063},{"t":15.24,"v":0.06},
{"t":15.27,"v":0},{"t":15.31,"v":0},{"t":15.34,"v":0.07},{"t":15.39,"v":0.057},{"t":15.45,"v":0.0625},{"t":15.52,"v":0.0575},{"t":15.59,"v":0.0625},{"t":15.66,"v":0.0605},{"t":15.74,"v":0.0635},{"t":15.81,"v":0.063},{"t":15.85,"v":0.06},
{"t":15.88,"v":0},{"t":15.92,"v":0},{"t":15.95,"v":0.0695},{"t":16.0,"v":0.058},{"t":16.06,"v":0.0625},{"t":16.13,"v":0.061},{"t":16.21,"v":0.0635},{"t":16.29,"v":0.0605},{"t":16.37,"v":0.063},{"t":16.44,"v":0.0615},{"t":16.47,"v":0.055},
{"t":16.5,"v":0},{"t":16.52,"v":0.012},{"t":16.54,"v":0},{"t":16.57,"v":0.02},{"t":16.6,"v":0},{"t":16.64,"v":0.0685},{"t":16.69,"v":0.0575},{"t":16.75,"v":0.0625},{"t":16.82,"v":0.056},{"t":16.88,"v":0.0615},{"t":16.95,"v":0.063},{"t":17.03,"v":0.0605},{"t":17.11,"v":0.0635},{"t":17.19,"v":0.062},{"t":17.25,"v":0.0605},
{"t":17.29,"v":0},{"t":17.33,"v":0},{"t":17.36,"v":0.069},{"t":17.41,"v":0.058},{"t":17.47,"v":0.0625},{"t":17.54,"v":0.0605},{"t":17.62,"v":0.0635},{"t":17.7,"v":0.061},{"t":17.77,"v":0.0625},
{"t":17.82,"v":0},{"t":17.86,"v":0},{"t":17.89,"v":0.0675},{"t":17.94,"v":0.058},{"t":18.0,"v":0.0625},{"t":18.06,"v":0.0605},{"t":18.11,"v":0.062},
{"t":18.14,"v":0},{"t":18.18,"v":0},{"t":18.21,"v":0.0705},{"t":18.26,"v":0.056},{"t":18.32,"v":0.0625},{"t":18.39,"v":0.061},{"t":18.47,"v":0.0635},{"t":18.55,"v":0.0605},{"t":18.62,"v":0.063},{"t":18.67,"v":0.0615},
{"t":18.7,"v":0},{"t":18.74,"v":0},{"t":18.77,"v":0.0715},{"t":18.82,"v":0.057},{"t":18.88,"v":0.0625},{"t":18.95,"v":0.0605},{"t":19.03,"v":0.0635},{"t":19.11,"v":0.061},{"t":19.18,"v":0.0625},
{"t":19.22,"v":0},{"t":19.26,"v":0},{"t":19.29,"v":0.0705},{"t":19.34,"v":0.0575},{"t":19.4,"v":0.063},{"t":19.47,"v":0.0605},{"t":19.55,"v":0.0635},{"t":19.63,"v":0.0615},{"t":19.71,"v":0.063},{"t":19.79,"v":0.0605},
{"t":19.83,"v":0},{"t":19.87,"v":0},{"t":19.9,"v":0.068},{"t":19.95,"v":0.0575},{"t":20.01,"v":0.0625},{"t":20.08,"v":0.0595},{"t":20.16,"v":0.063},{"t":20.24,"v":0.06},{"t":20.3,"v":0.062},
{"t":20.34,"v":0},{"t":20.39,"v":0},{"t":20.43,"v":0.0805},{"t":20.47,"v":0.057},{"t":20.53,"v":0.062},{"t":20.6,"v":0.0595},{"t":20.68,"v":0.063},{"t":20.76,"v":0.0605},{"t":20.84,"v":0.0635},{"t":20.92,"v":0.061},{"t":20.99,"v":0.0625},
{"t":21.04,"v":0},{"t":21.08,"v":0},{"t":21.11,"v":0.0705},{"t":21.16,"v":0.0575},{"t":21.22,"v":0.0625},{"t":21.29,"v":0.06},{"t":21.37,"v":0.0635},{"t":21.45,"v":0.0615},{"t":21.5,"v":0.059},
{"t":21.53,"v":0},{"t":21.57,"v":0},{"t":21.6,"v":0.0715},{"t":21.65,"v":0.057},{"t":21.71,"v":0.0625},{"t":21.78,"v":0.06},{"t":21.86,"v":0.064},{"t":21.94,"v":0.0615},{"t":22.02,"v":0.063},{"t":22.07,"v":0.06},
{"t":22.11,"v":0},{"t":22.15,"v":0},{"t":22.18,"v":0.0725},{"t":22.23,"v":0.0565},{"t":22.29,"v":0.063},{"t":22.36,"v":0.0595},{"t":22.44,"v":0.0635},{"t":22.52,"v":0.061},{"t":22.57,"v":0.0625},
{"t":22.61,"v":0},{"t":22.65,"v":0},{"t":22.68,"v":0.0705},{"t":22.73,"v":0.0575},{"t":22.79,"v":0.0625},{"t":22.86,"v":0.06},{"t":22.94,"v":0.0635},{"t":23.02,"v":0.0605},{"t":23.06,"v":0.062},
{"t":23.09,"v":0},{"t":23.13,"v":0},{"t":23.16,"v":0.0695},{"t":23.21,"v":0.056},{"t":23.27,"v":0.0625},{"t":23.34,"v":0.0595},{"t":23.42,"v":0.0635},{"t":23.5,"v":0.0605},{"t":23.58,"v":0.063},{"t":23.64,"v":0.0605},
{"t":23.68,"v":0},{"t":23.73,"v":0},{"t":23.76,"v":0.0725},{"t":23.81,"v":0.0565},{"t":23.87,"v":0.063},{"t":23.94,"v":0.0595},{"t":24.02,"v":0.0635},{"t":24.1,"v":0.0605},{"t":24.18,"v":0.0625},{"t":24.26,"v":0.061},
{"t":24.31,"v":0},{"t":24.36,"v":0},{"t":24.39,"v":0.0755},{"t":24.44,"v":0.057},{"t":24.5,"v":0.0625},{"t":24.57,"v":0.0595},{"t":24.65,"v":0.0635},{"t":24.73,"v":0.0605},{"t":24.79,"v":0.062},
{"t":24.83,"v":0},{"t":24.87,"v":0},{"t":24.9,"v":0.074},{"t":24.95,"v":0.0565},{"t":25.01,"v":0.0625},{"t":25.08,"v":0.06},{"t":25.16,"v":0.0635},{"t":25.23,"v":0.0605},
{"t":25.27,"v":0},{"t":25.31,"v":0},{"t":25.34,"v":0.073},{"t":25.39,"v":0.0575},{"t":25.45,"v":0.063},{"t":25.52,"v":0.06},{"t":25.6,"v":0.0635},{"t":25.68,"v":0.0605},
{"t":25.73,"v":0},{"t":25.77,"v":0},{"t":25.8,"v":0.0745},{"t":25.85,"v":0.057},{"t":25.91,"v":0.0625},{"t":25.98,"v":0.0595},{"t":26.06,"v":0.063},{"t":26.11,"v":0.0605},
{"t":26.15,"v":0},{"t":26.19,"v":0},{"t":26.22,"v":0.0725},{"t":26.27,"v":0.0575},{"t":26.33,"v":0.0625},{"t":26.4,"v":0.06},{"t":26.47,"v":0.0635},{"t":26.52,"v":0.061},
{"t":26.56,"v":0},{"t":26.6,"v":0},{"t":26.63,"v":0.0755},{"t":26.68,"v":0.057},{"t":26.74,"v":0.063},{"t":26.81,"v":0.06},{"t":26.88,"v":0.0625},{"t":26.91,"v":0.0605},
{"t":26.94,"v":0},{"t":26.98,"v":0},{"t":27.01,"v":0.074},{"t":27.06,"v":0.0575},{"t":27.12,"v":0.0625},{"t":27.18,"v":0.0605},{"t":27.24,"v":0.062},
{"t":27.27,"v":0},{"t":27.3,"v":0},{"t":27.33,"v":0.073},{"t":27.38,"v":0.06},{"t":27.43,"v":0.0625},
{"t":27.47,"v":0},{"t":27.5,"v":0},{"t":27.53,"v":0.0745},{"t":27.58,"v":0.0575},{"t":27.64,"v":0.0625},{"t":27.7,"v":0.0595},{"t":27.74,"v":0.061},
{"t":27.77,"v":0},{"t":27.8,"v":0},{"t":27.83,"v":0.0745},{"t":27.88,"v":0.058},{"t":27.94,"v":0.0625},{"t":28.0,"v":0.0595},{"t":28.07,"v":0.063},{"t":28.12,"v":0.06},
{"t":28.15,"v":0},{"t":28.18,"v":0},{"t":28.21,"v":0.074},{"t":28.26,"v":0.0585},{"t":28.31,"v":0.0625},{"t":28.34,"v":0.06},
{"t":28.37,"v":0},{"t":28.4,"v":0},{"t":28.43,"v":0.0735},{"t":28.48,"v":0.058},{"t":28.54,"v":0.0625},{"t":28.6,"v":0.0605},
{"t":28.64,"v":0},{"t":28.67,"v":0},{"t":28.7,"v":0.074},{"t":28.75,"v":0.0575},{"t":28.81,"v":0.063},{"t":28.88,"v":0.0595},{"t":28.94,"v":0.062},
{"t":28.98,"v":0},{"t":29.01,"v":0},{"t":29.04,"v":0.0745},{"t":29.09,"v":0.058},{"t":29.14,"v":0.0625},{"t":29.17,"v":0.06},
{"t":29.2,"v":0},{"t":29.23,"v":0},{"t":29.26,"v":0.073},{"t":29.31,"v":0.058},{"t":29.37,"v":0.0625},{"t":29.42,"v":0.0605},
{"t":29.45,"v":0},{"t":29.48,"v":0},{"t":29.51,"v":0.0775},{"t":29.56,"v":0.0575},{"t":29.62,"v":0.063},{"t":29.68,"v":0.0595},{"t":29.74,"v":0.0625},{"t":29.78,"v":0.06},
{"t":29.81,"v":0},{"t":29.84,"v":0},{"t":29.87,"v":0.0705},{"t":29.91,"v":0.0655},{"t":29.94,"v":0.0675},{"t":29.97,"v":0.063},{"t":30.0,"v":0}
]
},
"encoding": {
  "x": {"field": "t", "type": "quantitative", "scale": {"domain": [0, 30], "nice": false, "zero": false},
    "axis": {"values": [0, 6, 12, 18, 24, 30], "labelExpr": "datum.value + ':00'", "grid": false, "ticks": true, "tickSize": -12, "tickColor": "#808080", "tickWidth": 1, "labelFontSize": 35, "labelPadding": 56, "labelFlush": false, "title": "Time", "titleFontSize": 36, "titlePadding": -3}}
},
"layer": [
  {"data": {"name": "pin"}, "mark": {"type": "line", "strokeWidth": 2, "strokeJoin": "round"},
   "encoding": {
     "y": {"field": "v", "type": "quantitative", "scale": {"domain": [0, 4], "nice": false},
       "axis": {"values": [0, 1, 2, 3, 4], "format": "d", "ticks": true, "tickSize": 0, "tickOpacity": 0, "grid": true, "gridColor": "black", "gridOpacity": 1, "gridWidth": 1, "labelFontSize": 37, "labelPadding": 40, "labelAlign": "right", "labelBaseline": "middle", "labelOffset": 7, "title": ["Power Input &", "Output (kW)"], "titleFontSize": 37, "titleLineHeight": 40, "titleAngle": 270, "titleBaseline": "bottom", "titlePadding": 26}},
     "color": {"datum": "Power input (= Energy Consumption)", "type": "nominal",
       "scale": {"domain": ["Power input (= Energy Consumption)", "Power Output", "Outlet Airflow Rate"], "range": ["#000080", "#FF00FF", "#008000"]},
       "legend": {"orient": "none", "legendX": -16, "legendY": -97, "direction": "horizontal", "title": null, "symbolType": "stroke", "symbolSize": 2800, "symbolStrokeWidth": 2, "labelFont": "Liberation Serif", "labelFontSize": 37, "labelColor": "black", "labelLimit": 0, "labelOffset": 12, "columnPadding": 10, "padding": 11, "symbolOffset": 1, "strokeColor": "black", "fillColor": "white"}}
   }},
  {"data": {"name": "pout"}, "mark": {"type": "line", "strokeWidth": 2, "strokeJoin": "round"},
   "encoding": {
     "y": {"field": "v", "type": "quantitative", "scale": {"domain": [0, 4], "nice": false}, "axis": null},
     "color": {"datum": "Power Output", "type": "nominal"}
   }},
  {"data": {"name": "air"}, "mark": {"type": "line", "strokeWidth": 2, "strokeJoin": "round"},
   "encoding": {
     "y": {"field": "v", "type": "quantitative", "scale": {"domain": [0, 0.1], "nice": false},
       "axis": {"orient": "right", "values": [0, 0.02, 0.04, 0.06, 0.08, 0.1], "format": ".2f", "grid": false, "ticks": true, "tickSize": -12, "tickColor": "black", "labelFontSize": 37, "labelPadding": 41, "labelOffset": 5, "title": "Airflow Rate (m³/s)", "titleFontSize": 37, "titleAngle": 270, "titleBaseline": "top", "titlePadding": 40}},
     "color": {"datum": "Outlet Airflow Rate", "type": "nominal"}
   }}
],
"resolve": {"scale": {"y": "independent"}}
}
